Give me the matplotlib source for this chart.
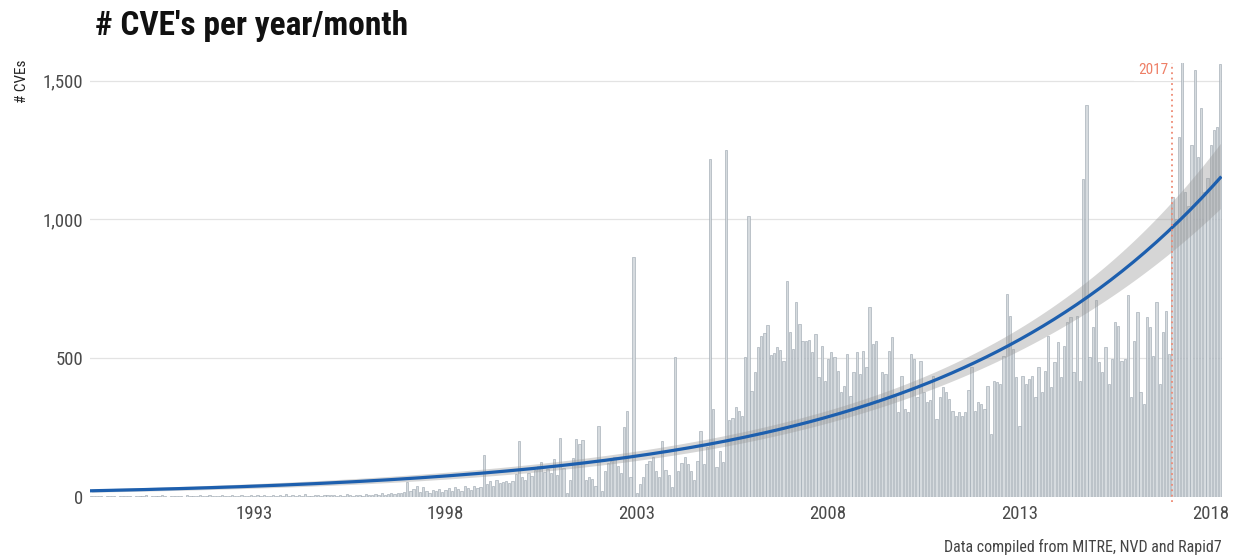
import numpy as np
import matplotlib
matplotlib.use('Agg')
import matplotlib.pyplot as plt
from matplotlib import font_manager as fm

names = {f.name for f in fm.fontManager.ttflist}
family = 'Roboto'
for cand in ['Roboto Condensed', 'Liberation Sans Narrow']:
    if cand in names:
        family = cand
        break
plt.rcParams['font.family'] = [family, 'DejaVu Sans']

# monthly CVE counts, Oct 1988 .. Apr 2018
start_year, start_month = 1988, 10
y1988 = [2, 1, 3]
y1989 = [1, 0, 2, 3, 1, 0, 4, 2, 1, 3, 0, 2]
y1990 = [2, 1, 5, 0, 3, 2, 1, 6, 2, 0, 3, 4]
y1991 = [3, 2, 0, 6, 1, 4, 2, 7, 3, 1, 5, 2]
y1992 = [4, 3, 8, 2, 1, 5, 3, 2, 6, 4, 1, 7]
y1993 = [3, 5, 2, 8, 4, 1, 6, 3, 5, 2, 9, 4]
y1994 = [6, 2, 5, 3, 9, 4, 2, 7, 5, 3, 8, 6]
y1995 = [5, 8, 3, 6, 4, 10, 5, 3, 8, 6, 4, 11]
y1996 = [7, 5, 9, 6, 12, 8, 10, 14, 9, 12, 15, 18]
y1997 = [52, 20, 28, 40, 18, 36, 22, 15, 25, 20, 28, 18]
y1998 = [25, 30, 20, 35, 28, 22, 40, 30, 25, 38, 32, 34]
y1999 = [152, 45, 55, 40, 60, 48, 52, 58, 50, 55, 82, 200]
y2000 = [70, 60, 85, 75, 95, 110, 125, 90, 100, 85, 135, 80]
y2001 = [212, 105, 15, 60, 140, 208, 190, 205, 60, 70, 65, 40]
y2002 = [256, 22, 94, 120, 130, 142, 112, 85, 253, 310, 70, 866]
y2003 = [15, 45, 70, 117, 130, 142, 94, 70, 202, 95, 80, 34]
y2004 = [503, 94, 120, 142, 118, 94, 60, 130, 238, 118, 178, 1219]
y2005 = [316, 106, 164, 124, 1249, 275, 283, 322, 310, 290, 503, 1013]
y2006 = [383, 449, 540, 580, 590, 620, 510, 520, 540, 530, 490, 777]
y2007 = [593, 533, 702, 623, 563, 560, 565, 521, 587, 431, 545, 419]
y2008 = [497, 521, 503, 455, 377, 401, 515, 365, 449, 521, 443, 527]
y2009 = [467, 683, 551, 563, 340, 449, 443, 527, 575, 365, 304, 437]
y2010 = [316, 304, 513, 497, 359, 491, 377, 340, 347, 437, 280, 359]
y2011 = [395, 377, 353, 310, 292, 304, 292, 304, 385, 467, 310, 340]
y2012 = [335, 316, 401, 226, 419, 413, 407, 509, 732, 653, 533, 431]
y2013 = [256, 437, 407, 425, 437, 359, 467, 377, 455, 581, 395, 485]
y2014 = [557, 431, 545, 629, 647, 449, 653, 419, 1147, 1412, 503, 611]
y2015 = [708, 485, 449, 539, 407, 497, 629, 617, 491, 497, 726, 359]
y2016 = [563, 665, 377, 335, 647, 611, 509, 702, 407, 593, 671, 515]
y2017 = [1081, 1000, 1297, 1568, 1100, 1050, 1267, 1538, 1225, 1400, 1100, 1150]
y2018 = [1267, 1321, 1333, 1562]

year_ticks = [1993, 1998, 2003, 2008, 2013, 2018]
y_ticks = [0, 500, 1000, 1500]
marker_year = 2017

counts = np.array(y1988 + y1989 + y1990 + y1991 + y1992 + y1993 + y1994 + y1995
                  + y1996 + y1997 + y1998 + y1999 + y2000 + y2001 + y2002 + y2003
                  + y2004 + y2005 + y2006 + y2007 + y2008 + y2009 + y2010 + y2011
                  + y2012 + y2013 + y2014 + y2015 + y2016 + y2017 + y2018, dtype=float)
t = start_year + (start_month - 1 + np.arange(len(counts))) / 12

# quasi-poisson glm smooth, like geom_smooth(method="glm")
tm = t.mean()
X = np.column_stack([np.ones_like(t), t - tm])
beta = np.linalg.lstsq(X, np.log(counts + 1), rcond=None)[0]
for _ in range(50):
    eta = X @ beta
    mu = np.exp(eta)
    z = eta + (counts - mu) / mu
    XtW = X.T * mu
    beta = np.linalg.solve(XtW @ X, XtW @ z)
mu = np.exp(X @ beta)
phi = np.sum((counts - mu) ** 2 / mu) / (len(counts) - 2)
cov = phi * np.linalg.inv((X.T * mu) @ X)
grid = np.linspace(t.min(), t.max(), 300)
G = np.column_stack([np.ones_like(grid), grid - tm])
eta_g = G @ beta
se = np.sqrt(np.einsum('ij,jk,ik->i', G, cov, G))

fig = plt.figure(figsize=(12.33, 5.55), dpi=100)
ax = fig.add_axes([0.073, 0.105, 0.918, 0.782])

ax.bar(t, counts, width=0.72 / 12, color='#d6dbdf', edgecolor='#98a3ad',
       linewidth=0.4, zorder=2)
ax.fill_between(grid, np.exp(eta_g - 1.96 * se), np.exp(eta_g + 1.96 * se),
                color='#999999', alpha=0.4, lw=0, zorder=3)
ax.plot(grid, np.exp(eta_g), color='#1d5fae', lw=2.3, zorder=4)

ax.axvline(marker_year, ymin=-0.012, ymax=1.0, color='#ee8a74', ls=(0, (1, 2)),
           lw=1.3, clip_on=False, zorder=5)
ax.text(marker_year - 0.12, 1540, str(marker_year), ha='right', va='center',
        color='#ee7f66', fontsize=11,
        bbox=dict(fc='white', ec='none', pad=3), zorder=3)

ax.set_xlim(t[0] - 0.5 / 12, t[-1] + 0.5 / 12)
ax.set_ylim(0, 1565)
ax.set_xticks(year_ticks)
ax.set_xticklabels([str(y) for y in year_ticks])
ax.set_yticks(y_ticks)
ax.set_yticklabels(['{:,}'.format(v) for v in y_ticks])
ax.tick_params(length=0, labelsize=13.5, colors='#4a4a4a')
ax.tick_params(axis='x', pad=6)
ax.tick_params(axis='y', pad=5)
ax.yaxis.grid(True, color='#e3e3e3', lw=0.9)
ax.set_axisbelow(True)
for s in ax.spines.values():
    s.set_visible(False)

fig.text(0.077, 0.937, "# CVE's per year/month", fontsize=24, fontweight='bold',
         ha='left', va='baseline', color='#111111')
fig.text(0.018, 0.892, '# CVEs', rotation=90, ha='center', va='top',
         fontsize=11, color='#222222')
fig.text(0.991, 0.0144, 'Data compiled from MITRE, NVD and Rapid7', ha='right',
         va='center', fontsize=11.5, color='#444444')

fig.savefig('out.png', dpi=100)
